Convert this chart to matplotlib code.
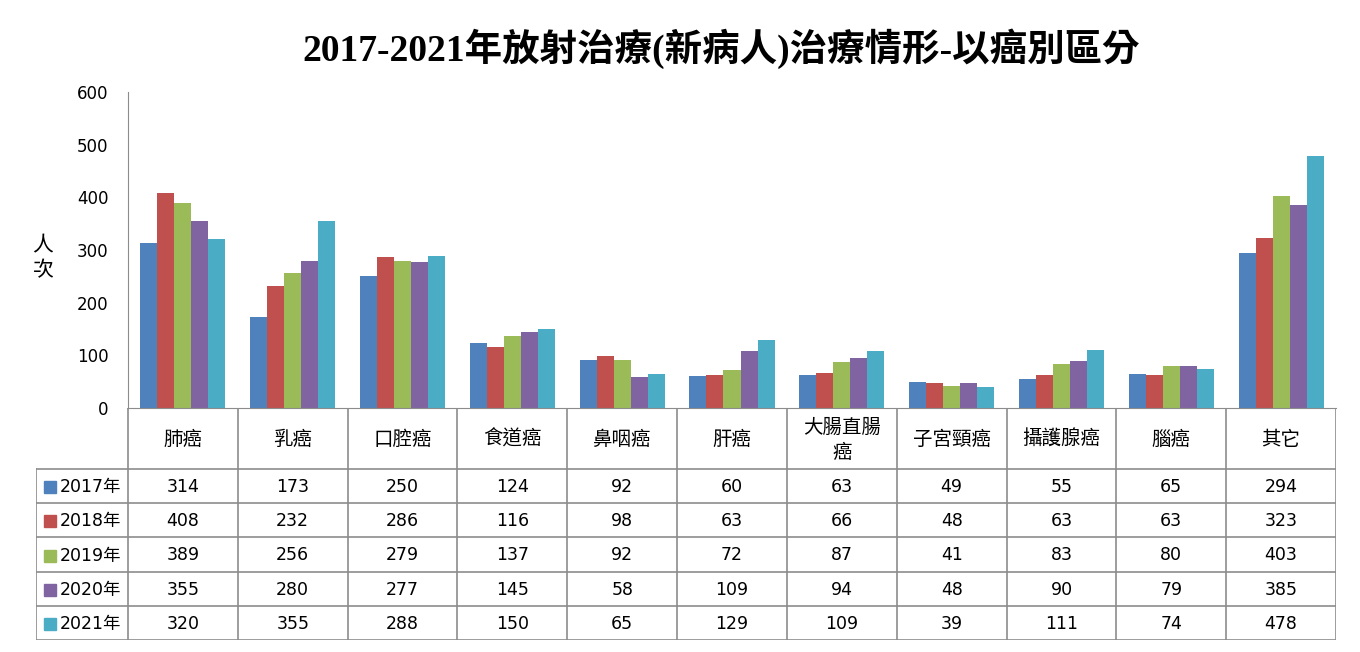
import numpy as np
import matplotlib
matplotlib.use("Agg")
import matplotlib.pyplot as plt

plt.rcParams['font.family'] = ['DejaVu Sans', 'Noto Sans CJK TC']

title = "2017-2021年放射治療(新病人)治療情形-以癌別區分"
categories = ["肺癌", "乳癌", "口腔癌", "食道癌", "鼻咽癌", "肝癌", "大腸直腸\n癌",
              "子宮頸癌", "攝護腺癌", "腦癌", "其它"]
years = ["2017年", "2018年", "2019年", "2020年", "2021年"]
v2017 = [314, 173, 250, 124, 92, 60, 63, 49, 55, 65, 294]
v2018 = [408, 232, 286, 116, 98, 63, 66, 48, 63, 63, 323]
v2019 = [389, 256, 279, 137, 92, 72, 87, 41, 83, 80, 403]
v2020 = [355, 280, 277, 145, 58, 109, 94, 48, 90, 79, 385]
v2021 = [320, 355, 288, 150, 65, 129, 109, 39, 111, 74, 478]
series = [v2017, v2018, v2019, v2020, v2021]
colors = ["#4F81BD", "#C0504D", "#9BBB59", "#8064A2", "#4BACC6"]

W, H = 1360, 652
fig = plt.figure(figsize=(W / 100, H / 100), dpi=100)
grid = "#8c8c8c"
cjk = ["Noto Sans CJK TC", "DejaVu Sans"]

# chart area
ax = fig.add_axes([128 / W, (H - 408) / H, 1208 / W, 316 / H])
x = np.arange(len(categories))
bw = 0.155
for j, vals in enumerate(series):
    ax.bar(x + 0.5 + (j - 2) * bw, vals, bw, color=colors[j], label=years[j])
ax.set_xlim(0, len(categories))
ax.set_ylim(0, 600)
ax.set_yticks(np.arange(0, 601, 100))
ax.tick_params(axis='y', length=0, pad=14, labelsize=12)
ax.set_xticks([])
for s in ["top", "right"]:
    ax.spines[s].set_visible(False)
for s in ["left", "bottom"]:
    ax.spines[s].set_color(grid)

fig.text(43 / W, 1 - 258 / H, "人\n次", ha="center", va="center", fontsize=15,
         linespacing=1.15, family=cjk)

fig.text(721 / W, 1 - 49 / H, title, ha="center", va="center", fontsize=27, fontweight="bold",
         family=["Liberation Serif", "Noto Sans CJK TC"])

# data table below the chart
left = -92 / 109.8
tax = fig.add_axes([36 / W, (H - 640) / H, 1300 / W, 232 / H])
tax.set_xlim(left, len(categories))
tax.set_ylim(640, 408)
tax.axis("off")
row_edges = [408, 469, 503, 537, 572, 606, 640]
lw = 1.2
tax.plot([0, len(categories)], [row_edges[0]] * 2, color=grid, lw=lw)
for yy in row_edges[1:]:
    tax.plot([left, len(categories)], [yy, yy], color=grid, lw=lw)
for i in range(len(categories) + 1):
    tax.plot([i, i], [row_edges[0], row_edges[-1]], color=grid, lw=lw)
tax.plot([left, left], [row_edges[1], row_edges[-1]], color=grid, lw=lw)

hy = (row_edges[0] + row_edges[1]) / 2 + 1
for i, c in enumerate(categories):
    tax.text(i + 0.5, hy, c, ha="center", va="center", fontsize=14, linespacing=1.25,
             family=cjk)
for j, vals in enumerate(series):
    ry = (row_edges[j + 1] + row_edges[j + 2]) / 2 + 1
    for i, v in enumerate(vals):
        tax.text(i + 0.5, ry, str(v), ha="center", va="center", fontsize=12.5)
    tax.add_patch(plt.Rectangle((left + 8 / 109.8, ry - 6), 12 / 109.8, 12,
                                color=colors[j], clip_on=False))
    tax.text(left + 24 / 109.8, ry, years[j], ha="left", va="center", fontsize=12.5)

fig.savefig("out.png", dpi=100)
